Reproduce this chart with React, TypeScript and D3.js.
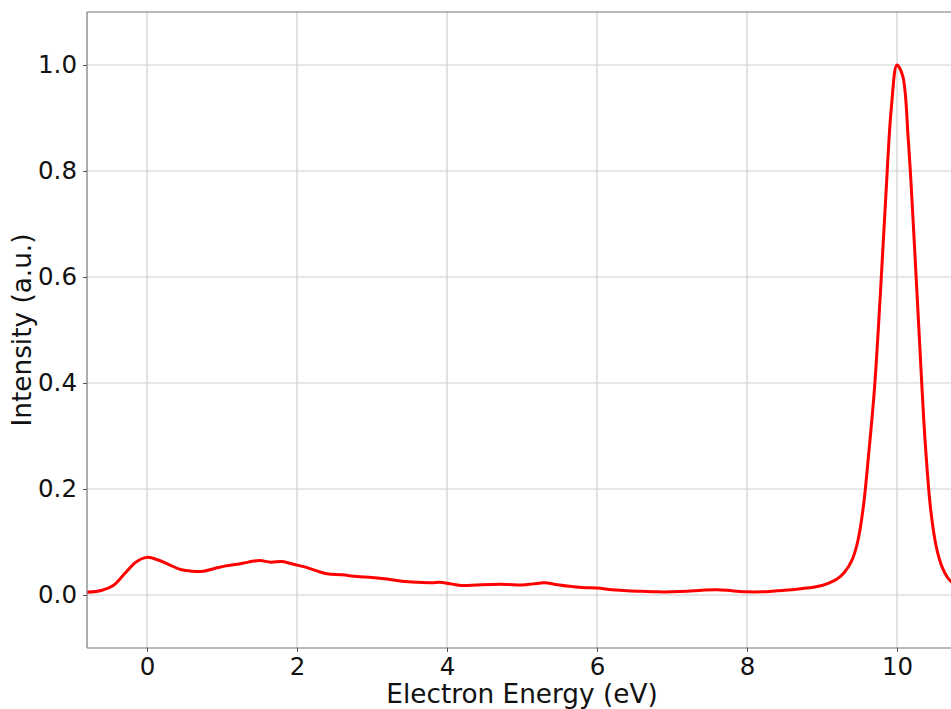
import React, {useEffect, useRef} from 'react';
import {scaleLinear, line, curveCatmullRom, axisLeft, axisBottom, select} from 'd3';

// spectrum
const energy = [
	-0.8, -0.6, -0.45, -0.3, -0.15, 0.0, 0.15, 0.3, 0.45, 0.6, 0.75, 0.9, 1.05, 1.2, 1.35, 1.5, 1.65, 1.8, 1.95,
	2.1, 2.25, 2.4, 2.6, 2.8, 3.0, 3.2, 3.4, 3.6, 3.8, 3.9, 4.05, 4.2, 4.4, 4.6, 4.8, 5.0, 5.15, 5.3, 5.45, 5.6,
	5.8, 6.0, 6.2, 6.4, 6.6, 6.8, 7.0, 7.2, 7.4, 7.6, 7.8, 8.0, 8.2, 8.4, 8.6, 8.8, 9.0, 9.1, 9.2, 9.3, 9.4,
	9.475, 9.55, 9.625, 9.7, 9.775, 9.85, 9.925, 10.0, 10.075, 10.15, 10.225, 10.3, 10.375, 10.45, 10.525,
	10.6, 10.675, 10.75, 10.85
];
const intensity = [
	0.005, 0.009, 0.018, 0.040, 0.062, 0.071, 0.066, 0.057, 0.048, 0.045, 0.045, 0.050, 0.055, 0.058, 0.062, 0.065, 0.062, 0.063, 0.058,
	0.053, 0.046, 0.040, 0.038, 0.035, 0.033, 0.030, 0.026, 0.024, 0.023, 0.024, 0.021, 0.018, 0.019, 0.020, 0.020, 0.019, 0.021, 0.023, 0.020, 0.017,
	0.014, 0.013, 0.010, 0.008, 0.007, 0.006, 0.006, 0.007, 0.009, 0.010, 0.008, 0.006, 0.006, 0.008, 0.010, 0.013, 0.018, 0.023, 0.030, 0.043, 0.066,
	0.10, 0.165, 0.27, 0.39, 0.56, 0.75, 0.92, 1.0, 0.98, 0.86, 0.68, 0.48, 0.29, 0.16, 0.09,
	0.053, 0.033, 0.022, 0.015
];

const xTicks = [0, 2, 4, 6, 8, 10];
const yTicks = [0.0, 0.2, 0.4, 0.6, 0.8, 1.0];
const xDomain = [-0.8, 10.72];
const yDomain = [-0.1, 1.1];

const W = 951;
const H = 709;
const margin = {t: 12, r: 0, b: 61, l: 87};
const innerW = W - margin.l - margin.r;
const innerH = H - margin.t - margin.b;

const font = 'DejaVu Sans, Verdana, sans-serif';

const scaleX = scaleLinear().domain(xDomain).range([0, innerW]);
const scaleY = scaleLinear().domain(yDomain).range([innerH, 0]);

const points = energy.map((e, i) => ({e, v: intensity[i]}));

//smooth through the read points, the peak stays fairly sharp
const lineGenerator = line<{e: number, v: number}>()
	.x(d => scaleX(d.e))
	.y(d => scaleY(d.v))
	.curve(curveCatmullRom.alpha(0.5));

export default function App(){
	const xAxisRef = useRef<SVGGElement>(null);
	const yAxisRef = useRef<SVGGElement>(null);

	useEffect(() => {
		const ax = select(xAxisRef.current)
			.call(axisBottom(scaleX).tickValues(xTicks).tickFormat(d => String(d)).tickSize(4).tickPadding(6));
		ax.select('.domain').remove();
		ax.selectAll('line').attr('stroke', '#555');
		ax.selectAll('text').attr('fill', '#111').style('font-size', '24.5px').style('font-family', font);

		const ay = select(yAxisRef.current)
			.call(axisLeft(scaleY).tickValues(yTicks).tickFormat(d => (+d).toFixed(1)).tickSize(4).tickPadding(6));
		ay.select('.domain').remove();
		ay.selectAll('line').attr('stroke', '#555');
		ay.selectAll('text').attr('fill', '#111').style('font-size', '24.5px').style('font-family', font);
	}, []);

	return (
		<svg width={W} height={H} style={{position: 'absolute', left: 0, top: 0, background: '#fff'}}>
			<defs>
				<clipPath id='plotClip'>
					<rect x={0} y={0} width={innerW} height={innerH}/>
				</clipPath>
			</defs>
			<g transform={`translate(${margin.l},${margin.t})`}>
				{/* grid */}
				{xTicks.map(t =>
					<line key={'gx' + t} x1={scaleX(t)} x2={scaleX(t)} y1={0} y2={innerH} stroke='#d0d0d0' strokeWidth={1.2}/>
				)}
				{yTicks.map(t =>
					<line key={'gy' + t} x1={0} x2={innerW} y1={scaleY(t)} y2={scaleY(t)} stroke='#d0d0d0' strokeWidth={1.2}/>
				)}
				<path d={lineGenerator(points) || ''} fill='none' stroke='#ff0000' strokeWidth={3}
					strokeLinejoin='round' clipPath='url(#plotClip)'/>
				{/* frame */}
				<line x1={0} x2={innerW} y1={0} y2={0} stroke='#777' strokeWidth={1.2}/>
				<line x1={0} x2={innerW} y1={innerH} y2={innerH} stroke='#777' strokeWidth={1.2}/>
				<line x1={0} x2={0} y1={0} y2={innerH} stroke='#777' strokeWidth={1.2}/>
				<g ref={xAxisRef} transform={`translate(0,${innerH})`}/>
				<g ref={yAxisRef}/>
			</g>
			<text x={522} y={703} textAnchor='middle' fontFamily={font} fontSize={26.3} fill='#111'>
				Electron Energy (eV)
			</text>
			<text transform={`translate(31,${330}) rotate(-90)`} textAnchor='middle'
				fontFamily={font} fontSize={26.3} fill='#111'>
				Intensity (a.u.)
			</text>
		</svg>
	);
}
